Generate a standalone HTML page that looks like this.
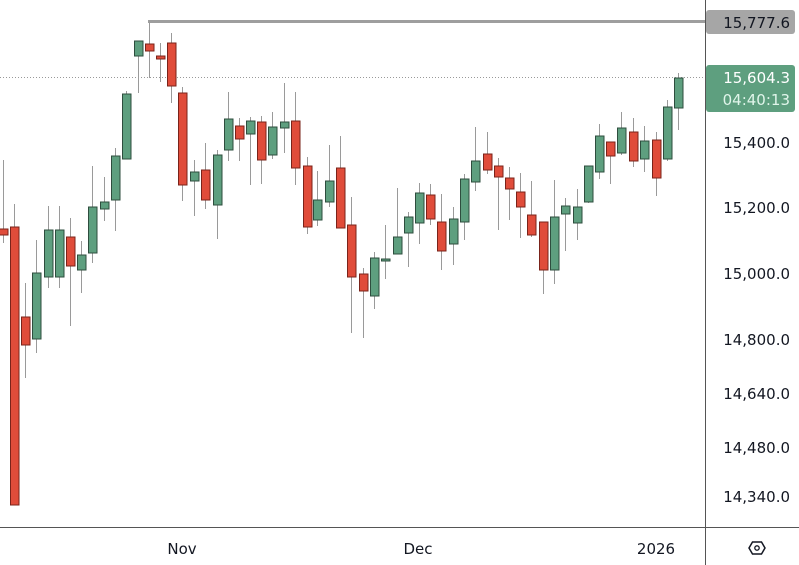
<!DOCTYPE html>
<html><head><style>
html,body{margin:0;padding:0;background:#fff;}
svg{display:block;font-family:"DejaVu Sans","Liberation Sans",sans-serif;}
</style></head><body>
<svg width="799" height="565" viewBox="0 0 799 565" xmlns="http://www.w3.org/2000/svg">
<rect width="799" height="565" fill="#fff"/>
<line x1="0" y1="77.5" x2="705" y2="77.5" stroke="#999" stroke-width="1" stroke-dasharray="1,2"/>
<line x1="148" y1="21.5" x2="705" y2="21.5" stroke="#9e9e9e" stroke-width="3"/>
<g id="c"></g>
<line x1="705.5" y1="0" x2="705.5" y2="565" stroke="#555" stroke-width="1"/>
<line x1="0" y1="527.5" x2="799" y2="527.5" stroke="#555" stroke-width="1"/>
<g font-size="15" fill="#131722" text-anchor="end">
<text x="790" y="148">15,400.0</text>
<text x="790" y="213">15,200.0</text>
<text x="790" y="279">15,000.0</text>
<text x="790" y="345">14,800.0</text>
<text x="790" y="399">14,640.0</text>
<text x="790" y="453">14,480.0</text>
<text x="790" y="502">14,340.0</text>
</g>
<rect x="706" y="10" width="89" height="24" rx="3" fill="#a6a6a6"/>
<text x="790" y="28" font-size="15" fill="#131722" text-anchor="end">15,777.6</text>
<rect x="706" y="65" width="89" height="47" rx="3" fill="#5e9f7f"/>
<text x="790" y="83" font-size="15" fill="#fff" text-anchor="end">15,604.3</text>
<text x="790" y="105" font-size="15" fill="#e0f5ea" text-anchor="end">04:40:13</text>
<g font-size="15" fill="#131722" text-anchor="middle">
<text x="182" y="554">Nov</text>
<text x="418" y="554">Dec</text>
<text x="656" y="554">2026</text>
</g>
<polygon points="749,548 752.5,542 761.5,542 765,548 761.5,554 752.5,554" fill="none" stroke="#131722" stroke-width="1.5"/>
<circle cx="757" cy="548" r="2.2" fill="none" stroke="#131722" stroke-width="1.3"/>
</svg>
<script>
var d=[
[3,229,235,160,243],[14,227,505,204,505],[25,317,345,283,378],[36,339,273,240,353],[48,277,230,206,288],[59,277,230,206,288],[70,237,266,218,326],[81,270,255,241,293],[92,253,207,166,263],[104,209,202,177,221],[115,200,156,148,231],[126,159,94,91,159],[138,56,41,41,93],[149,44,51,22,78],[160,56,59,43,82],[171,43,86,33,103],[182,93,185,87,201],[194,181,172,160,216],[205,170,200,143,209],[217,205,155,150,239],[228,150,119,92,161],[239,126,139,118,161],[250,134,121,117,185],[261,122,160,116,184],[272,155,127,112,159],[284,128,122,83,153],[295,121,168,92,185],[307,166,227,157,234],[317,220,200,171,226],[329,202,181,145,207],[340,168,228,136,228],[351,225,277,197,333],[363,274,291,268,338],[374,296,258,252,309],[385,261,259,225,279],[397,254,237,188,254],[408,233,217,212,267],[419,223,193,183,244],[430,195,219,184,225],[441,222,251,194,270],[453,244,219,207,265],[464,222,179,174,240],[475,182,161,127,191],[487,154,170,132,174],[498,166,177,158,230],[509,178,189,167,220],[520,192,207,173,238],[531,215,235,181,237],[543,222,270,222,294],[554,270,217,180,284],[565,214,206,198,251],[577,223,207,189,240],[588,202,166,166,203],[599,172,136,124,179],[610,142,156,142,184],[621,153,128,112,155],[633,132,161,118,167],[644,159,141,126,172],[656,140,178,132,196],[667,159,107,100,161],[678,108,78,73,130]];
var s='';
d.forEach(function(c){var x=c[0],o=c[1],cl=c[2],up=cl<o;
var f=up?'#5e9f7f':'#e04c3a',st=up?'#2e4d3e':'#7a231a';
var t=Math.min(o,cl),h=Math.max(Math.abs(o-cl),2);
s+='<line x1="'+(x+0.5)+'" y1="'+c[3]+'" x2="'+(x+0.5)+'" y2="'+c[4]+'" stroke="#9a9a9a" stroke-width="1"/>';
s+='<rect x="'+(x-3.5)+'" y="'+t+'" width="8.5" height="'+h+'" fill="'+f+'" stroke="'+st+'" stroke-width="1"/>';});
document.getElementById('c').innerHTML=s;
</script>
</body></html>
